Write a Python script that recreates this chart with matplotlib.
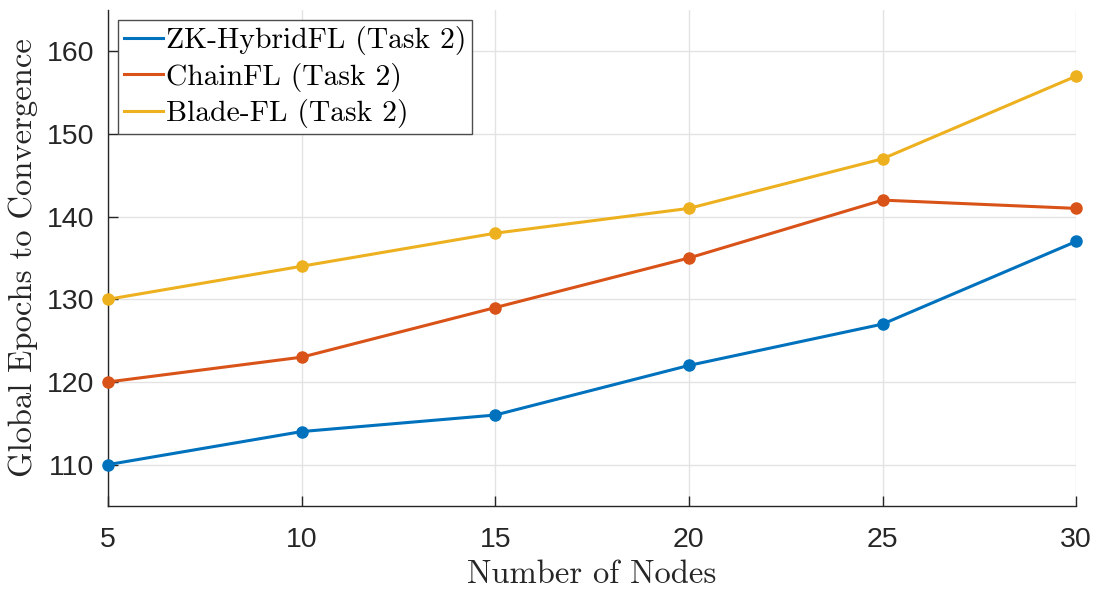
import matplotlib
matplotlib.use("Agg")
import matplotlib.pyplot as plt
from matplotlib.lines import Line2D

nodes = [5, 10, 15, 20, 25, 30]
zk_hybridfl = [110, 114, 116, 122, 127, 137]
chainfl = [120, 123, 129, 135, 142, 141]
blade_fl = [130, 134, 138, 141, 147, 157]

series_names = ["ZK-HybridFL (Task 2)", "ChainFL (Task 2)", "Blade-FL (Task 2)"]
colors = ["#0072BD", "#D95319", "#EDB120"]
y_ticks = [110, 120, 130, 140, 150, 160]

serif = "cmr10"
sans = ["Liberation Sans", "DejaVu Sans"]

fig = plt.figure(figsize=(10.97, 5.89), dpi=100)
ax = fig.add_axes([0.0985, 0.141, 0.8825, 0.842])

for vals, c in zip([zk_hybridfl, chainfl, blade_fl], colors):
    ax.plot(nodes, vals, color=c, lw=2.2, marker="o", ms=8, zorder=3, clip_on=False)

ax.set_xlim(5, 30)
ax.set_ylim(105, 165)
ax.set_xticks(nodes)
ax.set_yticks(y_ticks)
ax.grid(True, color="#e3e3e3", lw=1.0)
ax.set_axisbelow(True)

for s in ["top", "right"]:
    ax.spines[s].set_visible(False)
for s in ["left", "bottom"]:
    ax.spines[s].set_color("#262626")
    ax.spines[s].set_linewidth(1.0)

ax.tick_params(direction="in", length=7.2, width=1.0, color="#262626",
               labelcolor="#262626", labelsize=20.5)
ax.tick_params(axis="x", pad=15)
ax.tick_params(axis="y", pad=10)
for lab in ax.get_xticklabels() + ax.get_yticklabels():
    lab.set_family(sans)

ax.set_xlabel("Number of Nodes", family=serif, fontsize=23.5, color="#262626", labelpad=5)
ax.set_ylabel("Global Epochs to Convergence", family=serif, fontsize=23.5, color="#262626", labelpad=6)

handles = [Line2D([0], [0], color=c, lw=2.2) for c in colors]
leg = ax.legend(handles, series_names, loc="upper left", prop={"family": serif, "size": 21.3},
                frameon=True, fancybox=False, edgecolor="#4d4d4d", framealpha=1,
                handlelength=1.3, handletextpad=0.1, borderpad=0.2, labelspacing=0.25,
                borderaxespad=0.35)
leg.get_frame().set_linewidth(1.0)

fig.savefig("out.png", dpi=100)
